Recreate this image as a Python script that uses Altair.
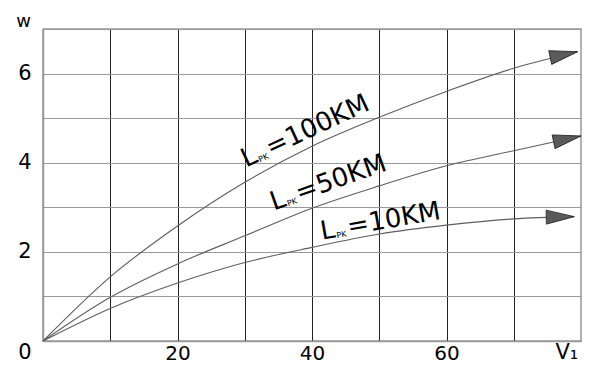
import altair as alt
import pandas as pd

# ---- data ----
series_names = ["L100", "L50", "L10"]
v_100 = [0, 10, 20, 30, 40, 50, 60, 70, 79.5]
w_100 = [0, 1.44, 2.58, 3.56, 4.37, 5.02, 5.60, 6.12, 6.49]
v_50 = [0, 10, 20, 30, 40, 50, 60, 70, 80]
w_50 = [0, 0.98, 1.73, 2.36, 2.98, 3.48, 3.93, 4.27, 4.60]
v_10 = [0, 10, 20, 30, 40, 50, 60, 70, 79]
w_10 = [0, 0.73, 1.30, 1.76, 2.10, 2.40, 2.60, 2.74, 2.79]

arrow_angles = [348, 348, 359]

label_tail = ["=100KM", "=50KM", "=10KM"]
label_v = [30.2, 34.3, 41.5]
label_w = [3.89, 2.93, 2.27]
label_angle = [335, 340.5, 350]

x_grid = [10, 20, 30, 40, 50, 60, 70]
y_grid = [0, 1, 2, 3, 4, 5, 6, 7]

# ---- tables ----
rows = []
for name, vs, ws in zip(series_names, [v_100, v_50, v_10], [w_100, w_50, w_10]):
    for v, w in zip(vs, ws):
        rows.append({"s": name, "v": v, "w": w})
lines_df = pd.DataFrame(rows)

arrows_df = pd.DataFrame({
    "s": series_names,
    "v": [v_100[-1], v_50[-1], v_10[-1]],
    "w": [w_100[-1], w_50[-1], w_10[-1]],
    "ang": arrow_angles,
})

labels_df = pd.DataFrame({
    "tail": label_tail, "v": label_v, "w": label_w, "ang": label_angle,
})

FONT = "DejaVu Sans"

xscale = alt.Scale(domain=[0, 80], nice=False, zero=False)
yscale = alt.Scale(domain=[0, 7], nice=False, zero=False)

x_enc = alt.X("v:Q", scale=xscale, axis=alt.Axis(
    values=x_grid, grid=True, gridColor="#222", gridWidth=1,
    ticks=False, domainColor="#999", domainWidth=1.5,
    labelExpr="datum.value % 20 == 0 ? datum.label : ''",
    labelFont=FONT, labelFontSize=20, labelColor="#000", labelPadding=2,
    title="V₁", titleFont=FONT, titleFontSize=21, titleFontWeight="normal",
    titleColor="#000", titleX=512, titleY=17, titleAlign="left",
    titleBaseline="alphabetic",
))
y_enc = alt.Y("w:Q", scale=yscale, axis=alt.Axis(
    values=y_grid, grid=True, gridColor="#999", gridWidth=1,
    ticks=False, domainColor="#999", domainWidth=1.5,
    labelExpr="datum.value % 2 == 0 ? datum.label : ''",
    labelFont=FONT, labelFontSize=21, labelColor="#000", labelPadding=12,
    labelAlign="right",
    labelBaseline=alt.ConditionalAxisLabelBaseline(
        condition={"test": "datum.value == 0", "value": "top"}, value="middle"),
    title="w", titleFont=FONT, titleFontSize=18, titleFontWeight="normal",
    titleColor="#000", titleAngle=0, titleX=-20, titleY=-3,
    titleAlign="center", titleBaseline="alphabetic",
))

lines = alt.Chart(lines_df).mark_line(
    interpolate="monotone", color="#5e5e5e", strokeWidth=1.1
).encode(x=x_enc, y=y_enc, detail="s:N")

arrows = alt.Chart(arrows_df).mark_point(
    shape="M0,0 L-2,-0.5 L-2,0.5 Z", size=784, filled=True,
    fill="#5a5a5a", stroke="#222", strokeWidth=0.8, opacity=1,
).encode(
    x=alt.X("v:Q", scale=xscale), y=alt.Y("w:Q", scale=yscale),
    angle=alt.Angle("ang:Q", scale=None),
)

txt_common = dict(font=FONT, color="#000", align="left", baseline="alphabetic")
enc_common = dict(
    x=alt.X("v:Q", scale=xscale), y=alt.Y("w:Q", scale=yscale),
    angle=alt.Angle("ang:Q", scale=None),
)

lab_L = alt.Chart(labels_df).mark_text(fontSize=26, **txt_common).encode(
    text=alt.value("L"), **enc_common)
lab_PK = alt.Chart(labels_df).mark_text(fontSize=8, dx=15, dy=1, **txt_common).encode(
    text=alt.value("PK"), **enc_common)
lab_tail = alt.Chart(labels_df).mark_text(fontSize=26, dx=27, **txt_common).encode(
    text="tail:N", **enc_common)

chart = alt.layer(lines, arrows, lab_L, lab_PK, lab_tail).properties(
    width=538, height=312,
    padding={"left": 35, "top": 21, "right": 3, "bottom": 23},
    autosize=alt.AutoSizeParams(type="none"),
).configure_view(stroke="#999", strokeWidth=1.5)

chart.save("out.html", embed_options={"renderer": "svg", "actions": False})
